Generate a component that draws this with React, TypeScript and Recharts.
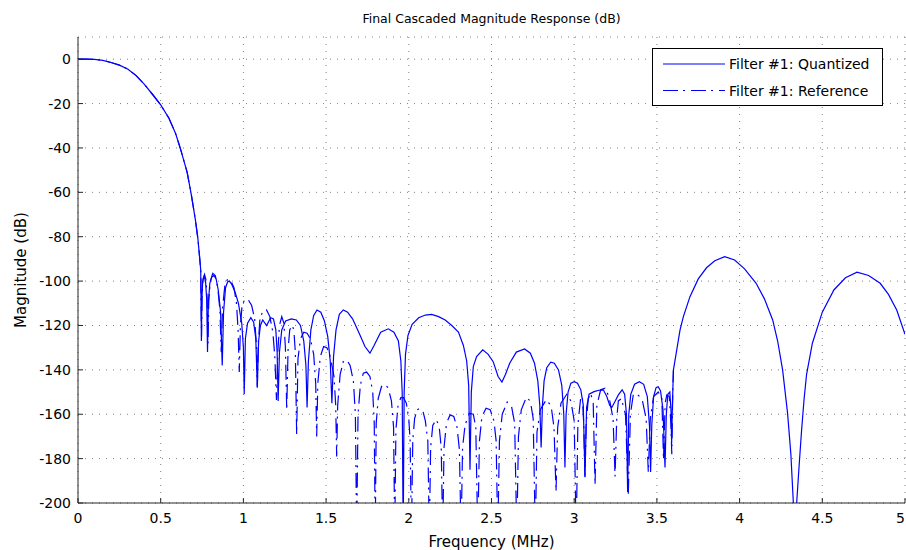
import { LineChart, Line, XAxis, YAxis, CartesianGrid, Legend } from 'recharts';

const FONT = '"DejaVu Sans", "Liberation Sans", sans-serif';
const BLUE = '#0000ff';
const AXIS = '#262626';
const GRID = '#808080';

const TITLE = 'Final Cascaded Magnitude Response (dB)';
const X_TICKS = [0, 0.5, 1, 1.5, 2, 2.5, 3, 3.5, 4, 4.5, 5];
const Y_TICKS = [-200, -180, -160, -140, -120, -100, -80, -60, -40, -20, 0];

// [frequency MHz, magnitude dB] -- passband is the same for both filters
const PASSBAND: [number, number][] = [
  [0, 0], [0.05, 0], [0.1, -0.1], [0.15, -0.5], [0.2, -1.5], [0.25, -2.7], [0.3, -4.4],
  [0.35, -7.3], [0.4, -11.2], [0.45, -15.8], [0.5, -20.6], [0.55, -26.6], [0.59, -33.5],
  [0.62, -40.5], [0.66, -51], [0.685, -61], [0.71, -72.5], [0.725, -81], [0.735, -89], [0.742, -95],
];

const QUANT_STOP_LOW: [number, number][] = [
  [0.744, -110], [0.746, -127], [0.749, -108], [0.754, -100], [0.762, -98], [0.771, -100],
  [0.778, -108], [0.783, -132], [0.788, -110], [0.797, -101], [0.81, -98], [0.822, -97.5],
  [0.835, -99], [0.848, -104], [0.862, -114], [0.872, -138], [0.88, -114], [0.892, -103],
  [0.905, -100.3], [0.915, -100], [0.93, -101.5], [0.95, -105], [0.97, -110], [0.99, -119],
  [1.0, -130], [1.005, -151], [1.012, -126], [1.025, -119], [1.045, -116.5], [1.062, -118.5],
  [1.075, -126], [1.084, -148], [1.092, -127], [1.103, -120], [1.117, -117.5], [1.14, -120],
  [1.165, -116.5], [1.182, -117], [1.196, -122], [1.204, -132], [1.21, -154], [1.218, -132],
  [1.232, -122], [1.255, -118], [1.29, -117], [1.32, -117.5], [1.345, -120], [1.365, -127],
  [1.378, -138], [1.385, -157], [1.393, -136], [1.408, -122], [1.425, -115.5], [1.445, -113],
  [1.468, -114], [1.49, -118], [1.51, -125], [1.525, -136], [1.535, -155], [1.545, -134],
  [1.56, -122], [1.58, -115], [1.604, -113], [1.63, -114], [1.66, -117], [1.7, -123.5],
  [1.735, -129.5], [1.765, -132.5], [1.79, -129], [1.83, -123], [1.876, -121.5], [1.91, -123],
  [1.937, -127], [1.952, -136], [1.96, -150], [1.966, -215], [1.972, -150], [1.98, -133],
  [1.995, -124.5],
];

const QUANT_STOP_MID: [number, number][] = [
  [2.02, -119.5], [2.06, -116.5], [2.1, -115.3], [2.138, -115], [2.18, -116], [2.22, -117.5],
  [2.26, -120], [2.3, -123], [2.33, -129], [2.35, -136], [2.362, -147], [2.37, -185],
  [2.378, -150], [2.39, -138.5], [2.41, -134], [2.447, -131], [2.48, -133], [2.51, -136.3],
  [2.54, -143], [2.563, -145.5], [2.585, -142], [2.61, -137], [2.65, -132], [2.7, -130.6],
  [2.735, -132.5], [2.76, -137], [2.78, -145], [2.792, -156], [2.8, -175], [2.808, -156],
  [2.818, -145], [2.834, -139], [2.858, -136.5], [2.88, -137], [2.905, -140], [2.925, -147],
  [2.937, -160], [2.944, -184], [2.951, -160], [2.963, -150], [2.98, -146], [3.0, -145.3],
  [3.02, -146], [3.04, -149], [3.055, -156], [3.065, -188], [3.075, -157], [3.09, -151],
  [3.12, -149.8], [3.15, -149.2], [3.176, -149], [3.197, -152], [3.215, -156], [3.227, -157],
  [3.245, -154.5], [3.267, -151.3], [3.29, -149], [3.305, -151], [3.316, -160], [3.323, -195],
  [3.33, -160], [3.342, -151], [3.365, -146.5], [3.394, -145.3], [3.42, -146.5], [3.442, -152],
  [3.455, -165], [3.462, -186], [3.469, -165], [3.48, -152], [3.495, -148], [3.508, -147.6],
  [3.522, -149.5], [3.537, -158], [3.549, -184], [3.557, -160], [3.566, -151], [3.578, -150],
  [3.585, -158], [3.589, -173], [3.594, -155], [3.6, -140],
];

const QUANT_STOP_HIGH: [number, number][] = [
  [3.62, -131], [3.64, -122], [3.66, -116], [3.7, -107], [3.75, -99], [3.8, -94], [3.85, -90.8],
  [3.91, -89], [3.97, -90.5], [4.03, -94.5], [4.1, -101], [4.15, -108], [4.2, -117.5],
  [4.23, -127], [4.26, -140], [4.29, -159.5], [4.31, -178], [4.325, -200], [4.335, -225],
  [4.345, -200], [4.36, -183], [4.375, -167], [4.39, -153], [4.405, -142], [4.44, -128],
  [4.5, -114], [4.57, -104], [4.64, -98.5], [4.71, -96], [4.78, -97.5], [4.85, -101],
  [4.9, -106], [4.95, -113], [5.0, -124],
];

const REF_STOP_LOW: [number, number][] = [
  [0.744, -108], [0.747, -125], [0.75, -107], [0.756, -99], [0.765, -97], [0.774, -99.5],
  [0.781, -108], [0.786, -128], [0.791, -108], [0.8, -100], [0.815, -96.5], [0.83, -97.5],
  [0.845, -103], [0.858, -113], [0.866, -132], [0.874, -112], [0.888, -102], [0.905, -99],
  [0.925, -100], [0.943, -103], [0.958, -110], [0.968, -122], [0.975, -141], [0.982, -120],
  [0.992, -111], [1.01, -108], [1.03, -108.5], [1.05, -111], [1.068, -117], [1.078, -128],
  [1.084, -147.6], [1.09, -128], [1.1, -117], [1.12, -113], [1.14, -113], [1.16, -116],
  [1.178, -123], [1.19, -134], [1.2, -153.6], [1.208, -132], [1.218, -120], [1.232, -116],
  [1.245, -119], [1.254, -130], [1.262, -158], [1.27, -131], [1.28, -122], [1.295, -120],
  [1.305, -122], [1.314, -132], [1.322, -169], [1.33, -135], [1.345, -126], [1.365, -123],
  [1.385, -123.5], [1.405, -126], [1.425, -133], [1.437, -146], [1.443, -170], [1.45, -146],
  [1.465, -134], [1.485, -129.5], [1.505, -130], [1.525, -134], [1.548, -143], [1.558, -156],
  [1.564, -179], [1.57, -156], [1.585, -142], [1.605, -136], [1.625, -135.5], [1.645, -138],
  [1.665, -145], [1.677, -160], [1.685, -215], [1.693, -160], [1.707, -147], [1.725, -141.5],
  [1.745, -141], [1.765, -143], [1.782, -150], [1.791, -164], [1.797, -215], [1.803, -164],
  [1.815, -153], [1.835, -147.5], [1.855, -146.8], [1.875, -148], [1.895, -154], [1.908, -166],
  [1.915, -215], [1.922, -167], [1.935, -156], [1.952, -152.5], [1.968, -152.5], [1.985, -155],
];

const REF_STOP_MID: [number, number][] = [
  [2.0, -162], [2.008, -172], [2.016, -215], [2.024, -172], [2.035, -162], [2.05, -158],
  [2.067, -157.3], [2.085, -158.5], [2.1, -163], [2.115, -172], [2.124, -215], [2.132, -175],
  [2.145, -165], [2.165, -162.5], [2.183, -165], [2.196, -175], [2.205, -215], [2.213, -175],
  [2.228, -164], [2.25, -160.3], [2.272, -161], [2.292, -166], [2.306, -176], [2.316, -215],
  [2.325, -175], [2.34, -165], [2.365, -159.5], [2.39, -160], [2.405, -166], [2.417, -215],
  [2.427, -172], [2.442, -161], [2.467, -157.3], [2.492, -158], [2.515, -163], [2.528, -172],
  [2.538, -215], [2.548, -172], [2.565, -160], [2.595, -154.5], [2.62, -156], [2.64, -164],
  [2.653, -215], [2.663, -170], [2.68, -158], [2.71, -152.5], [2.735, -154], [2.752, -162],
  [2.765, -215], [2.775, -168], [2.795, -158], [2.83, -153.6], [2.86, -156], [2.878, -166],
  [2.89, -195], [2.9, -166], [2.92, -155], [2.955, -151], [2.98, -154], [3.0, -163],
  [3.012, -215], [3.022, -165], [3.04, -152], [3.05, -153], [3.058, -165], [3.065, -189],
  [3.072, -165], [3.085, -153], [3.1, -150.6], [3.115, -155], [3.126, -192], [3.137, -156],
  [3.16, -149], [3.186, -148.3], [3.21, -152], [3.235, -162], [3.247, -188], [3.257, -162],
  [3.267, -154], [3.285, -153], [3.31, -160], [3.327, -196], [3.34, -160], [3.357, -151.3],
  [3.38, -151], [3.41, -153], [3.435, -162], [3.448, -186], [3.46, -162], [3.48, -152],
  [3.508, -150], [3.53, -153], [3.54, -180.6], [3.55, -155], [3.56, -151.3], [3.575, -152],
  [3.585, -165], [3.59, -178], [3.596, -150], [3.6, -140],
];

const toRows = (pts: [number, number][]) => pts.map(([f, m]) => ({ f, m }));

const quantized = toRows([...PASSBAND, ...QUANT_STOP_LOW, ...QUANT_STOP_MID, ...QUANT_STOP_HIGH]);
const reference = toRows([...PASSBAND, ...REF_STOP_LOW, ...REF_STOP_MID]);

const LAST_X = X_TICKS[X_TICKS.length - 1];

// ticks are drawn inside the box, MATLAB style
function BottomTick({ x, y, payload }: any) {
  const last = payload.value === LAST_X;
  return (
    <g>
      <line x1={x} x2={x} y1={y} y2={y - 5} stroke={AXIS} />
      <text
        x={last ? x : x}
        y={y + 20}
        textAnchor={last ? 'end' : 'middle'}
        fontFamily={FONT}
        fontSize={14}
        fill="#000"
      >
        {payload.value}
      </text>
    </g>
  );
}

function TopTick({ x, y }: any) {
  return <line x1={x} x2={x} y1={y} y2={y + 5} stroke={AXIS} />;
}

function LeftTick({ x, y, payload }: any) {
  return (
    <g>
      <line x1={x} x2={x + 5} y1={y} y2={y} stroke={AXIS} />
      <text x={x - 7} y={y + 5} textAnchor="end" fontFamily={FONT} fontSize={14} fill="#000">
        {payload.value}
      </text>
    </g>
  );
}

function RightTick({ x, y }: any) {
  return <line x1={x} x2={x - 5} y1={y} y2={y} stroke={AXIS} />;
}

function XTitle({ viewBox }: any) {
  const vb = viewBox || { x: 78, y: 503, width: 827 };
  return (
    <text x={vb.x + vb.width / 2} y={vb.y + 44} textAnchor="middle" fontFamily={FONT} fontSize={15} fill="#000">
      Frequency (MHz)
    </text>
  );
}

function YTitle({ viewBox }: any) {
  const vb = viewBox || { x: 0, y: 37, height: 466 };
  const cx = vb.x + 26;
  const cy = vb.y + vb.height / 2;
  return (
    <text x={cx} y={cy} transform={`rotate(-90 ${cx} ${cy})`} textAnchor="middle" fontFamily={FONT} fontSize={15} fill="#000">
      Magnitude (dB)
    </text>
  );
}

function LegendBox() {
  return (
    <svg width={231} height={58} style={{ display: 'block' }}>
      <rect x={0.5} y={0.5} width={230} height={57} fill="#fff" stroke="#000" />
      <line x1={11} x2={73} y1={16} y2={16} stroke={BLUE} strokeWidth={1.2} />
      <text x={77} y={21} fontFamily={FONT} fontSize={14} fill="#000">Filter #1: Quantized</text>
      <line x1={11} x2={73} y1={42.5} y2={42.5} stroke={BLUE} strokeWidth={1.2} strokeDasharray="15 5 2 6" />
      <text x={77} y={47.5} fontFamily={FONT} fontSize={14} fill="#000">Filter #1: Reference</text>
    </svg>
  );
}

export default function App() {
  return (
    <div style={{ position: 'absolute', left: 0, top: 0, width: 906, height: 550, background: '#fff' }}>
      <div
        style={{
          position: 'absolute',
          left: 78,
          top: 11,
          width: 827,
          textAlign: 'center',
          fontFamily: FONT,
          fontSize: 12.5,
          lineHeight: '16px',
          color: '#000',
        }}
      >
        {TITLE}
      </div>
      <LineChart width={906} height={550} margin={{ top: 37, right: 1, bottom: 0, left: 0 }}>
        <CartesianGrid stroke={GRID} strokeDasharray="1 6" />
        <XAxis
          type="number"
          dataKey="f"
          domain={[0, 5]}
          ticks={X_TICKS}
          interval={0}
          allowDataOverflow
          height={47}
          tickSize={0}
          tickMargin={0}
          tickLine={false}
          axisLine={{ stroke: AXIS }}
          tick={<BottomTick />}
          label={<XTitle />}
        />
        <XAxis
          xAxisId="top"
          orientation="top"
          type="number"
          dataKey="f"
          domain={[0, 5]}
          ticks={X_TICKS}
          interval={0}
          allowDataOverflow
          height={0}
          tickSize={0}
          tickMargin={0}
          tickLine={false}
          axisLine={{ stroke: AXIS }}
          tick={<TopTick />}
        />
        <YAxis
          type="number"
          domain={[-200, 10]}
          ticks={Y_TICKS}
          interval={0}
          allowDataOverflow
          width={78}
          tickSize={0}
          tickMargin={0}
          tickLine={false}
          axisLine={{ stroke: AXIS }}
          tick={<LeftTick />}
          label={<YTitle />}
        />
        <YAxis
          yAxisId="right"
          orientation="right"
          type="number"
          domain={[-200, 10]}
          ticks={Y_TICKS}
          interval={0}
          allowDataOverflow
          width={0}
          tickSize={0}
          tickMargin={0}
          tickLine={false}
          axisLine={{ stroke: AXIS }}
          tick={<RightTick />}
        />
        <Line
          data={reference}
          dataKey="m"
          name="Filter #1: Reference"
          type="linear"
          stroke={BLUE}
          strokeWidth={1.2}
          strokeDasharray="15 5 2 6"
          dot={false}
          isAnimationActive={false}
        />
        <Line
          data={quantized}
          dataKey="m"
          name="Filter #1: Quantized"
          type="linear"
          stroke={BLUE}
          strokeWidth={1.2}
          dot={false}
          isAnimationActive={false}
        />
        <Legend
          layout="horizontal"
          verticalAlign="middle"
          align="center"
          content={() => <LegendBox />}
          wrapperStyle={{ left: 652, top: 48, width: 231, height: 58 }}
        />
      </LineChart>
    </div>
  );
}
